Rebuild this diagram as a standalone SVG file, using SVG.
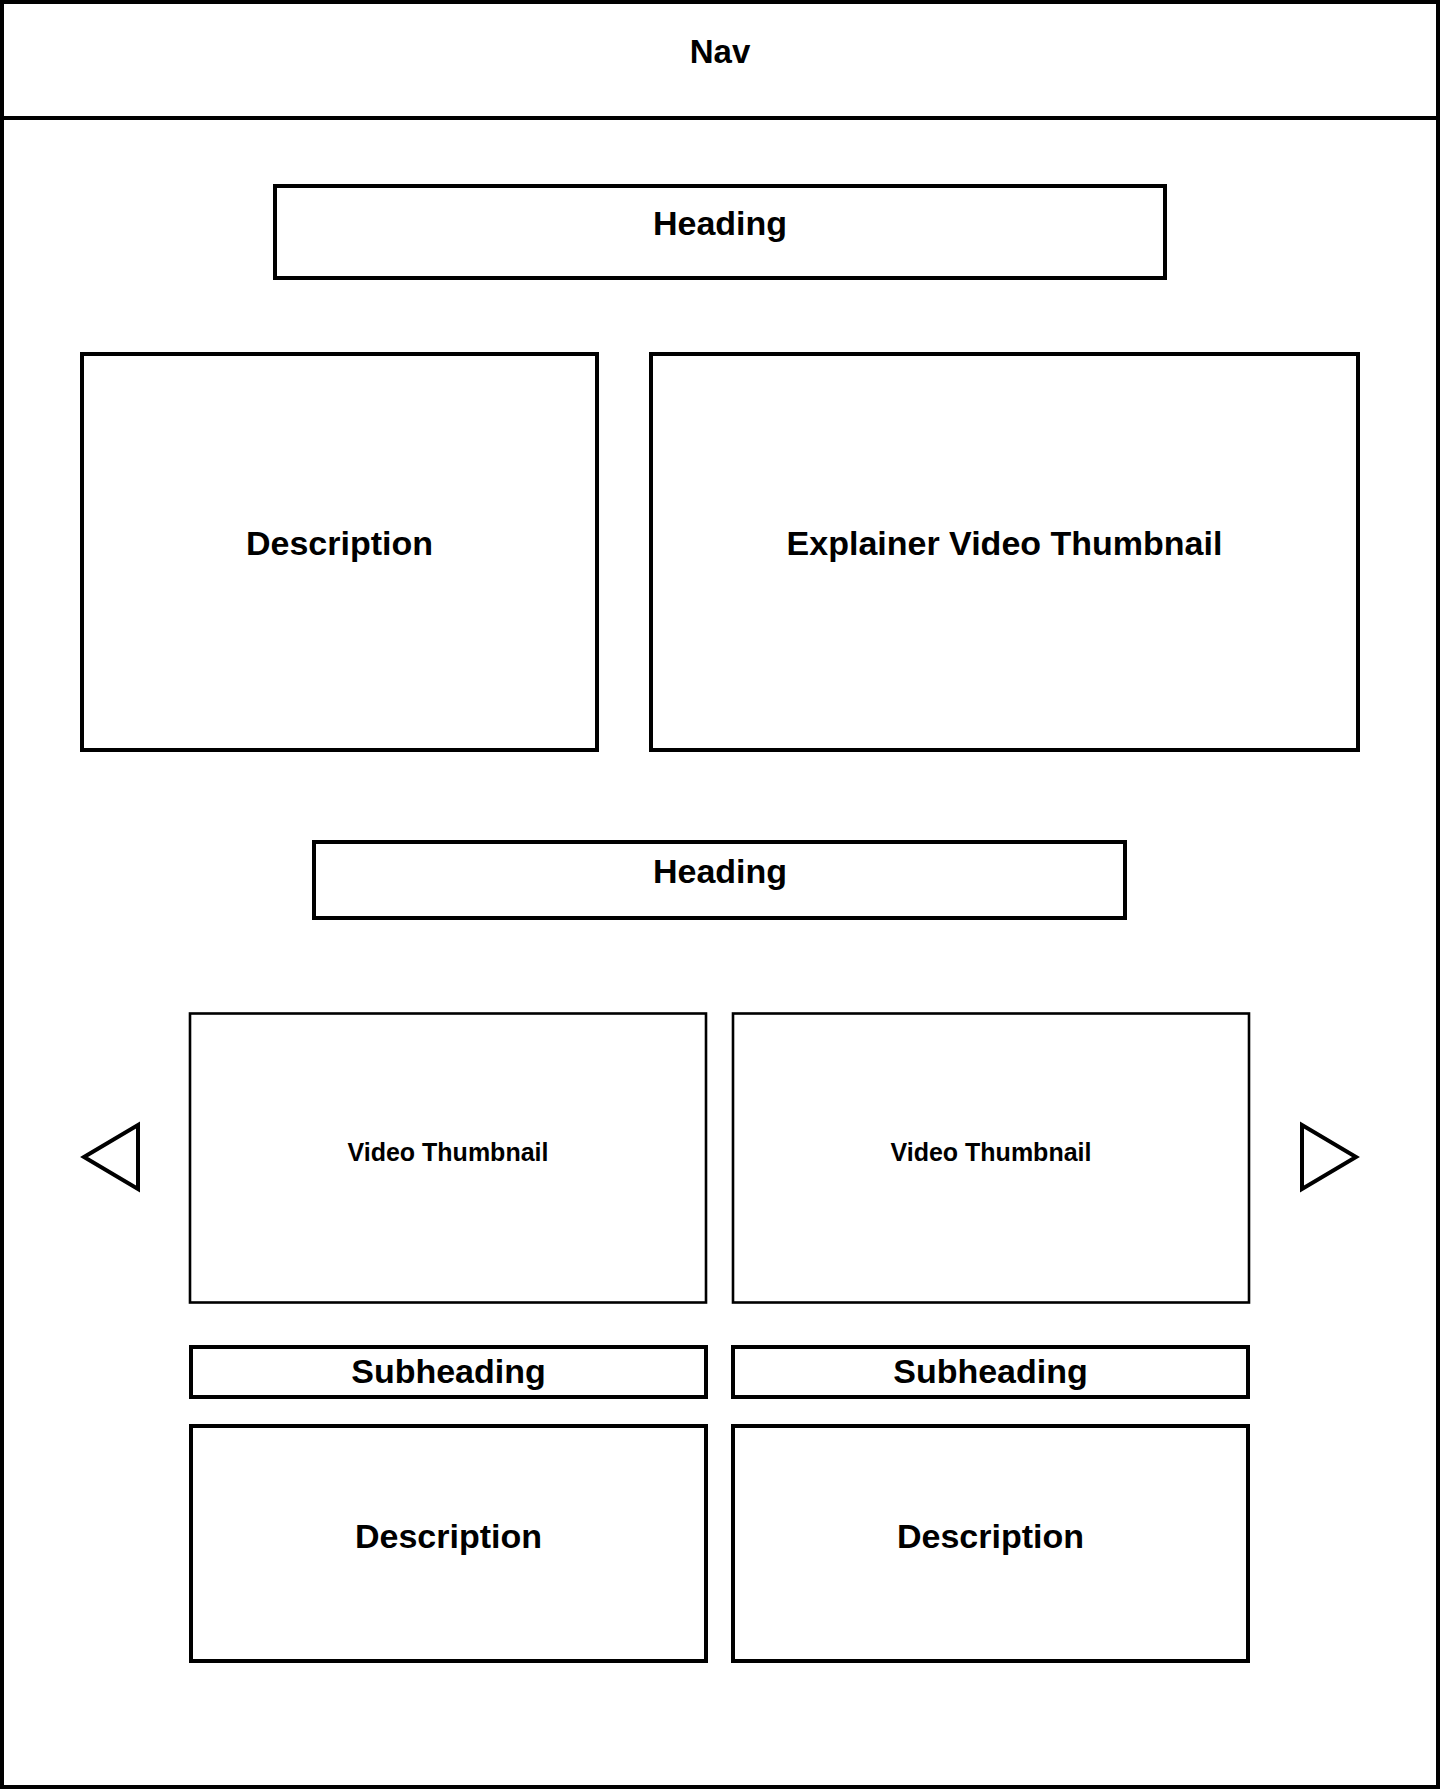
<svg xmlns="http://www.w3.org/2000/svg" width="1440" height="1789" viewBox="0 0 1440 1789">
<style>
.box{fill:#fff;stroke:#000;stroke-width:4}
.thin{fill:#fff;stroke:#000;stroke-width:2.6}
.lbl{font-family:"Liberation Sans",Arial,sans-serif;font-weight:bold;font-size:34px;fill:#000;text-anchor:middle}
.sm{font-size:25px}
</style>
<rect width="1440" height="1789" fill="#fff"/>
<g id="frame">
<rect class="box" x="2" y="2" width="1436" height="1785"/>
</g>
<g id="nav">
<line x1="0" y1="118" x2="1440" y2="118" stroke="#000" stroke-width="4"/>
<text class="lbl" x="720" y="63" style="font-size:33px">Nav</text>
</g>
<g id="heading1">
<rect class="box" x="275" y="186" width="890" height="92"/>
<text class="lbl" x="720" y="235">Heading</text>
</g>
<g id="description1">
<rect class="box" x="82" y="354" width="515" height="396"/>
<text class="lbl" x="339.5" y="555">Description</text>
</g>
<g id="explainer">
<rect class="box" x="651" y="354" width="707" height="396"/>
<text class="lbl" x="1004.5" y="555">Explainer Video Thumbnail</text>
</g>
<g id="heading2">
<rect class="box" x="314" y="842" width="811" height="76"/>
<text class="lbl" x="720" y="883">Heading</text>
</g>
<g id="prev">
<polygon class="box" points="84,1157 138,1125 138,1189"/>
</g>
<g id="next">
<polygon class="box" points="1302,1125 1302,1189 1356,1157"/>
</g>
<g id="thumb1">
<rect class="thin" x="190" y="1013.5" width="516" height="289"/>
<text class="lbl sm" x="448" y="1161">Video Thumbnail</text>
</g>
<g id="thumb2">
<rect class="thin" x="733" y="1013.5" width="516" height="289"/>
<text class="lbl sm" x="991" y="1161">Video Thumbnail</text>
</g>
<g id="sub1">
<rect class="box" x="191" y="1347" width="515" height="50"/>
<text class="lbl" x="448.5" y="1383">Subheading</text>
</g>
<g id="sub2">
<rect class="box" x="733" y="1347" width="515" height="50"/>
<text class="lbl" x="990.5" y="1383">Subheading</text>
</g>
<g id="desc2">
<rect class="box" x="191" y="1426" width="515" height="235"/>
<text class="lbl" x="448.5" y="1548">Description</text>
</g>
<g id="desc3">
<rect class="box" x="733" y="1426" width="515" height="235"/>
<text class="lbl" x="990.5" y="1548">Description</text>
</g>
<g id="connectors"></g>
</svg>
